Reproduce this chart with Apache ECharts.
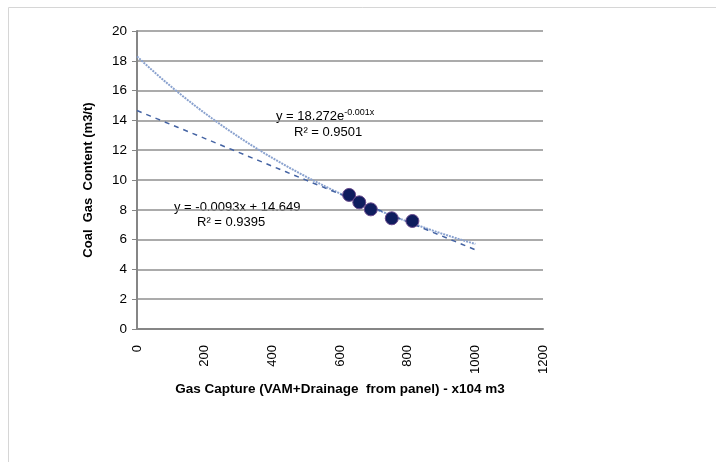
<!DOCTYPE html>
<html>
<head>
<meta charset="utf-8">
<script src="https://cdn.jsdelivr.net/npm/echarts@6/dist/echarts.min.js"></script>
<style>
html,body{margin:0;padding:0;background:#fff;}
#chart{width:716px;height:462px;}
</style>
</head>
<body>
<div id="chart"></div>
<script>
// ---- data ----
const gasCapture = [627, 657, 691, 753, 814];      // x: Gas Capture (x10^4 m3)
const gasContent = [9.0, 8.5, 8.03, 7.43, 7.25];   // y: Coal Gas Content (m3/t)
const trendRange = [0, 1000];                      // extent of the Excel trendlines
const xAxisTitle = 'Gas Capture (VAM+Drainage  from panel) - x104 m3';
const yAxisTitle = 'Coal  Gas  Content (m3/t)';
const expLabel = ['y = 18.272e', '-0.001x', 'R² = 0.9501'];
const linLabel = ['y = -0.0093x + 14.649', 'R² = 0.9395'];

// ---- least-squares trendlines (as Excel computes them) ----
function fitLinear(xs, ys) {
  const n = xs.length;
  const mx = xs.reduce((a, b) => a + b, 0) / n;
  const my = ys.reduce((a, b) => a + b, 0) / n;
  let sxy = 0, sxx = 0;
  for (let i = 0; i < n; i++) { sxy += (xs[i] - mx) * (ys[i] - my); sxx += (xs[i] - mx) ** 2; }
  const b = sxy / sxx;
  return { b: b, a: my - b * mx };
}
const lin = fitLinear(gasCapture, gasContent);
const expFit = fitLinear(gasCapture, gasContent.map(v => Math.log(v)));
const trendXs = [];
for (let x = trendRange[0]; x <= trendRange[1]; x += 20) trendXs.push(x);
const linLine = trendXs.map(x => [x, lin.a + lin.b * x]);
const expLine = trendXs.map(x => [x, Math.exp(expFit.a + expFit.b * x)]);
const points = gasCapture.map((x, i) => [x, gasContent[i]]);

const chart = echarts.init(document.getElementById('chart'), null, { renderer: 'canvas' });
const FONT = 'Liberation Sans';
chart.setOption({
  animation: false,
  backgroundColor: '#fff',
  grid: { left: 137, top: 31, width: 406, height: 298 },
  xAxis: {
    type: 'value', min: 0, max: 1200, interval: 200,
    name: xAxisTitle, nameLocation: 'middle', nameGap: 51,
    nameTextStyle: { fontFamily: FONT, fontSize: 13.5, fontWeight: 'bold', color: '#000' },
    axisLine: { show: true, lineStyle: { color: '#868686', width: 2 } },
    axisTick: { show: false },
    axisLabel: { rotate: 90, margin: 16, fontFamily: FONT, fontSize: 13, color: '#000',
                 formatter: v => String(v) },
    splitLine: { show: false }
  },
  yAxis: {
    type: 'value', min: 0, max: 20, interval: 2,
    name: yAxisTitle, nameLocation: 'middle', nameGap: 42,
    nameTextStyle: { fontFamily: FONT, fontSize: 13, fontWeight: 'bold', color: '#000' },
    axisLine: { show: true, lineStyle: { color: '#868686', width: 2 } },
    axisTick: { show: true, length: 5, lineStyle: { color: '#868686', width: 1 } },
    axisLabel: { margin: 10, fontFamily: FONT, fontSize: 13.5, color: '#000' },
    splitLine: { show: true, lineStyle: { color: '#8f8f8f', width: 1.5 } }
  },
  series: [
    {
      type: 'line', data: expLine, showSymbol: false, symbol: 'none', z: 2,
      lineStyle: { color: '#8aa2cf', width: 2, type: [2, 1] }
    },
    {
      type: 'line', data: linLine, showSymbol: false, symbol: 'none', z: 3,
      lineStyle: { color: '#4463a3', width: 1.5, type: [5, 5] }
    },
    {
      type: 'scatter', data: points, symbol: 'circle', symbolSize: 13, z: 5,
      itemStyle: { color: '#0f1d5e', borderColor: '#6a4a8e', borderWidth: 1, opacity: 1 }
    }
  ],
  graphic: [
    {
      type: 'rect', shape: { x: 8.5, y: 7.5, width: 740, height: 500 }, silent: true,
      style: { fill: null, stroke: '#d6d6d6', lineWidth: 1 }, z: -1
    },
    {
      type: 'text', x: 276, y: 108, silent: true,
      style: {
        text: '{m|' + expLabel[0] + '}{s|' + expLabel[1] + '}',
        rich: {
          m: { fontFamily: FONT, fontSize: 13, fill: '#000', verticalAlign: 'bottom', lineHeight: 15 },
          s: { fontFamily: FONT, fontSize: 9, fill: '#000', verticalAlign: 'top', lineHeight: 15, padding: [0, 0, 6, 0] }
        }
      }
    },
    {
      type: 'text', x: 294, y: 126, silent: true,
      style: { text: expLabel[2], fontFamily: FONT, fontSize: 13, fill: '#000' }
    },
    {
      type: 'text', x: 174, y: 201, silent: true,
      style: { text: linLabel[0], fontFamily: FONT, fontSize: 13, fill: '#000' }
    },
    {
      type: 'text', x: 197, y: 216, silent: true,
      style: { text: linLabel[1], fontFamily: FONT, fontSize: 13, fill: '#000' }
    }
  ]
});
</script>
</body>
</html>
